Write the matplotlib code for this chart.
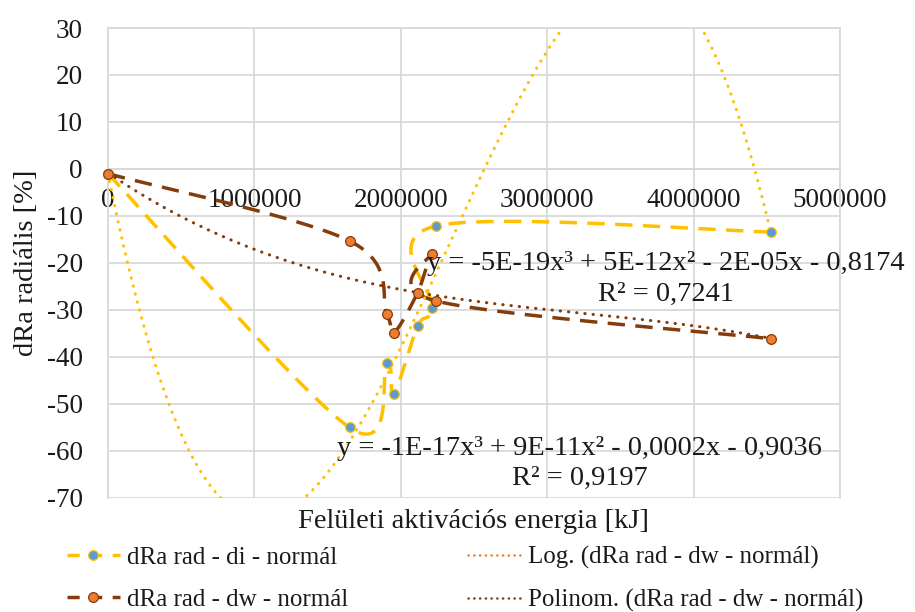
import numpy as np
import matplotlib
matplotlib.use("Agg")
import matplotlib.pyplot as plt
from matplotlib.lines import Line2D

# shared x values of both series [kJ]
energy = [0, 1650000, 1905000, 1952000, 2115000, 2215000, 2243000, 4526000]
dra_di = [-1.0, -55.0, -41.3, -47.9, -33.4, -29.5, -12.1, -13.4]
dra_dw = [-1.0, -15.3, -30.9, -34.9, -26.3, -18.0, -28.1, -36.1]

x_ticks = [0, 1000000, 2000000, 3000000, 4000000, 5000000]
y_ticks = [-70, -60, -50, -40, -30, -20, -10, 0, 10, 20, 30]

eq_di = "y = -1E-17x³ + 9E-11x² - 0,0002x - 0,9036\nR² = 0,9197"
eq_dw = "y = -5E-19x³ + 5E-12x² - 2E-05x - 0,8174\nR² = 0,7241"

series_labels = ["dRa rad - di - normál", "dRa rad - dw - normál"]
trend_labels = ["Log. (dRa rad - dw - normál)", "Polinom. (dRa rad - dw - normál)"]

GOLD = "#FFC000"
BLUE = "#5B9BD5"
ORANGE = "#ED7D31"
BROWN = "#843C0C"
GRID = "#D9D9D9"
TEXT = "#1a1a1a"


def smooth(xs, ys, n=40):
    # Excel-like smoothed line: cubic Bezier segments with Catmull-Rom tangents
    p = np.column_stack([xs, ys]).astype(float)
    pad = np.vstack([p[0], p, p[-1]])
    t = np.linspace(0, 1, n)[:, None]
    parts = []
    for i in range(len(p) - 1):
        p0, p1, p2, p3 = pad[i], pad[i + 1], pad[i + 2], pad[i + 3]
        c1 = p1 + (p2 - p0) / 6
        c2 = p2 - (p3 - p1) / 6
        seg = (1 - t) ** 3 * p1 + 3 * (1 - t) ** 2 * t * c1 + 3 * (1 - t) * t ** 2 * c2 + t ** 3 * p2
        parts.append(seg if i == 0 else seg[1:])
    out = np.vstack(parts)
    return out[:, 0], out[:, 1]


def cubic_trend(xs, ys, n=400):
    x = np.asarray(xs, float) / 1e6
    coef = np.polyfit(x, ys, 3)
    xx = np.linspace(x.min(), x.max(), n)
    return xx * 1e6, np.polyval(coef, xx)


plt.rcParams["font.family"] = ["Liberation Serif", "DejaVu Serif"]

fig = plt.figure(figsize=(9.15, 6.12), dpi=100)
ax = fig.add_axes([108 / 915, 1 - 498 / 612, 732 / 915, 470 / 612])

dash = (0, (5, 3))
dot = (0, (0.1, 2.6))
sx, sy = smooth(energy, dra_di)
ax.plot(sx, sy, color=GOLD, lw=2.5, linestyle=dash, zorder=2)
sx, sy = smooth(energy, dra_dw)
ax.plot(sx, sy, color=BROWN, lw=2.5, linestyle=dash, zorder=2)

tx, ty = cubic_trend(energy, dra_di)
ax.plot(tx, ty, color=GOLD, lw=2.2, linestyle=dot, dash_capstyle="round", zorder=3)
tx, ty = cubic_trend(energy, dra_dw)
ax.plot(tx, ty, color=BROWN, lw=2.2, linestyle=dot, dash_capstyle="round", zorder=3)

ax.plot(energy, dra_di, linestyle="none", marker="o", ms=7, mfc=BLUE, mec=GOLD, mew=0.9, zorder=4, clip_on=False)
ax.plot(energy, dra_dw, linestyle="none", marker="o", ms=7, mfc=ORANGE, mec=BROWN, mew=0.9, zorder=4, clip_on=False)

ax.set_xlim(0, 5000000)
ax.set_ylim(-70, 30)
ax.set_xticks(x_ticks)
ax.set_xticklabels([str(v) for v in x_ticks])
ax.set_yticks(y_ticks)
ax.set_yticklabels([str(v) for v in y_ticks])
ax.grid(True, color=GRID, lw=1.3, zorder=0)
ax.set_axisbelow(True)
ax.spines["bottom"].set_position(("data", 0))
for side in ["left", "bottom", "top", "right"]:
    ax.spines[side].set_color(GRID)
    ax.spines[side].set_linewidth(1.3)
ax.tick_params(axis="both", length=0, labelsize=19.5, colors=TEXT)
ax.tick_params(axis="x", pad=14)
ax.tick_params(axis="y", pad=18)

ax.set_ylabel("dRa radiális [%]", fontsize=20.5, color=TEXT, labelpad=6)
# axis crosses at y=0, so the x title sits under the plot area instead
fig.text(474 / 915, 1 - 521 / 612, "Felületi aktivációs energia [kJ]", fontsize=20.5,
         color=TEXT, ha="center", va="center")

ax.text(3.81e6, -23.4, eq_dw, fontsize=20.5, color=TEXT, ha="center", va="center",
        linespacing=1.32, zorder=5, clip_on=False)
ax.text(3.22e6, -62.7, eq_di, fontsize=20.5, color=TEXT, ha="center", va="center",
        linespacing=1.28, zorder=5)

series_handles = [
    Line2D([], [], color=GOLD, lw=2.5, linestyle=(0, (3.5, 3)), marker="o", ms=7, mfc=BLUE, mec=GOLD, mew=0.9),
    Line2D([], [], color=BROWN, lw=2.5, linestyle=(0, (3.5, 3)), marker="o", ms=7, mfc=ORANGE, mec=BROWN, mew=0.9),
]
trend_handles = [
    Line2D([], [], color=ORANGE, lw=1.8, linestyle=(0, (0.1, 2.2)), dash_capstyle="round"),
    Line2D([], [], color=BROWN, lw=1.8, linestyle=(0, (0.1, 2.2)), dash_capstyle="round"),
]
leg_kw = dict(frameon=False, fontsize=18, loc="upper left", borderpad=0, borderaxespad=0,
              handlelength=2.1, handletextpad=0.3, labelspacing=0.78, labelcolor=TEXT)
fig.legend(series_handles, series_labels, bbox_to_anchor=(67 / 915, 1 - 546 / 612), **leg_kw)
fig.legend(trend_handles, trend_labels, bbox_to_anchor=(468 / 915, 1 - 546 / 612), **leg_kw)

fig.savefig("out.png", dpi=100)
